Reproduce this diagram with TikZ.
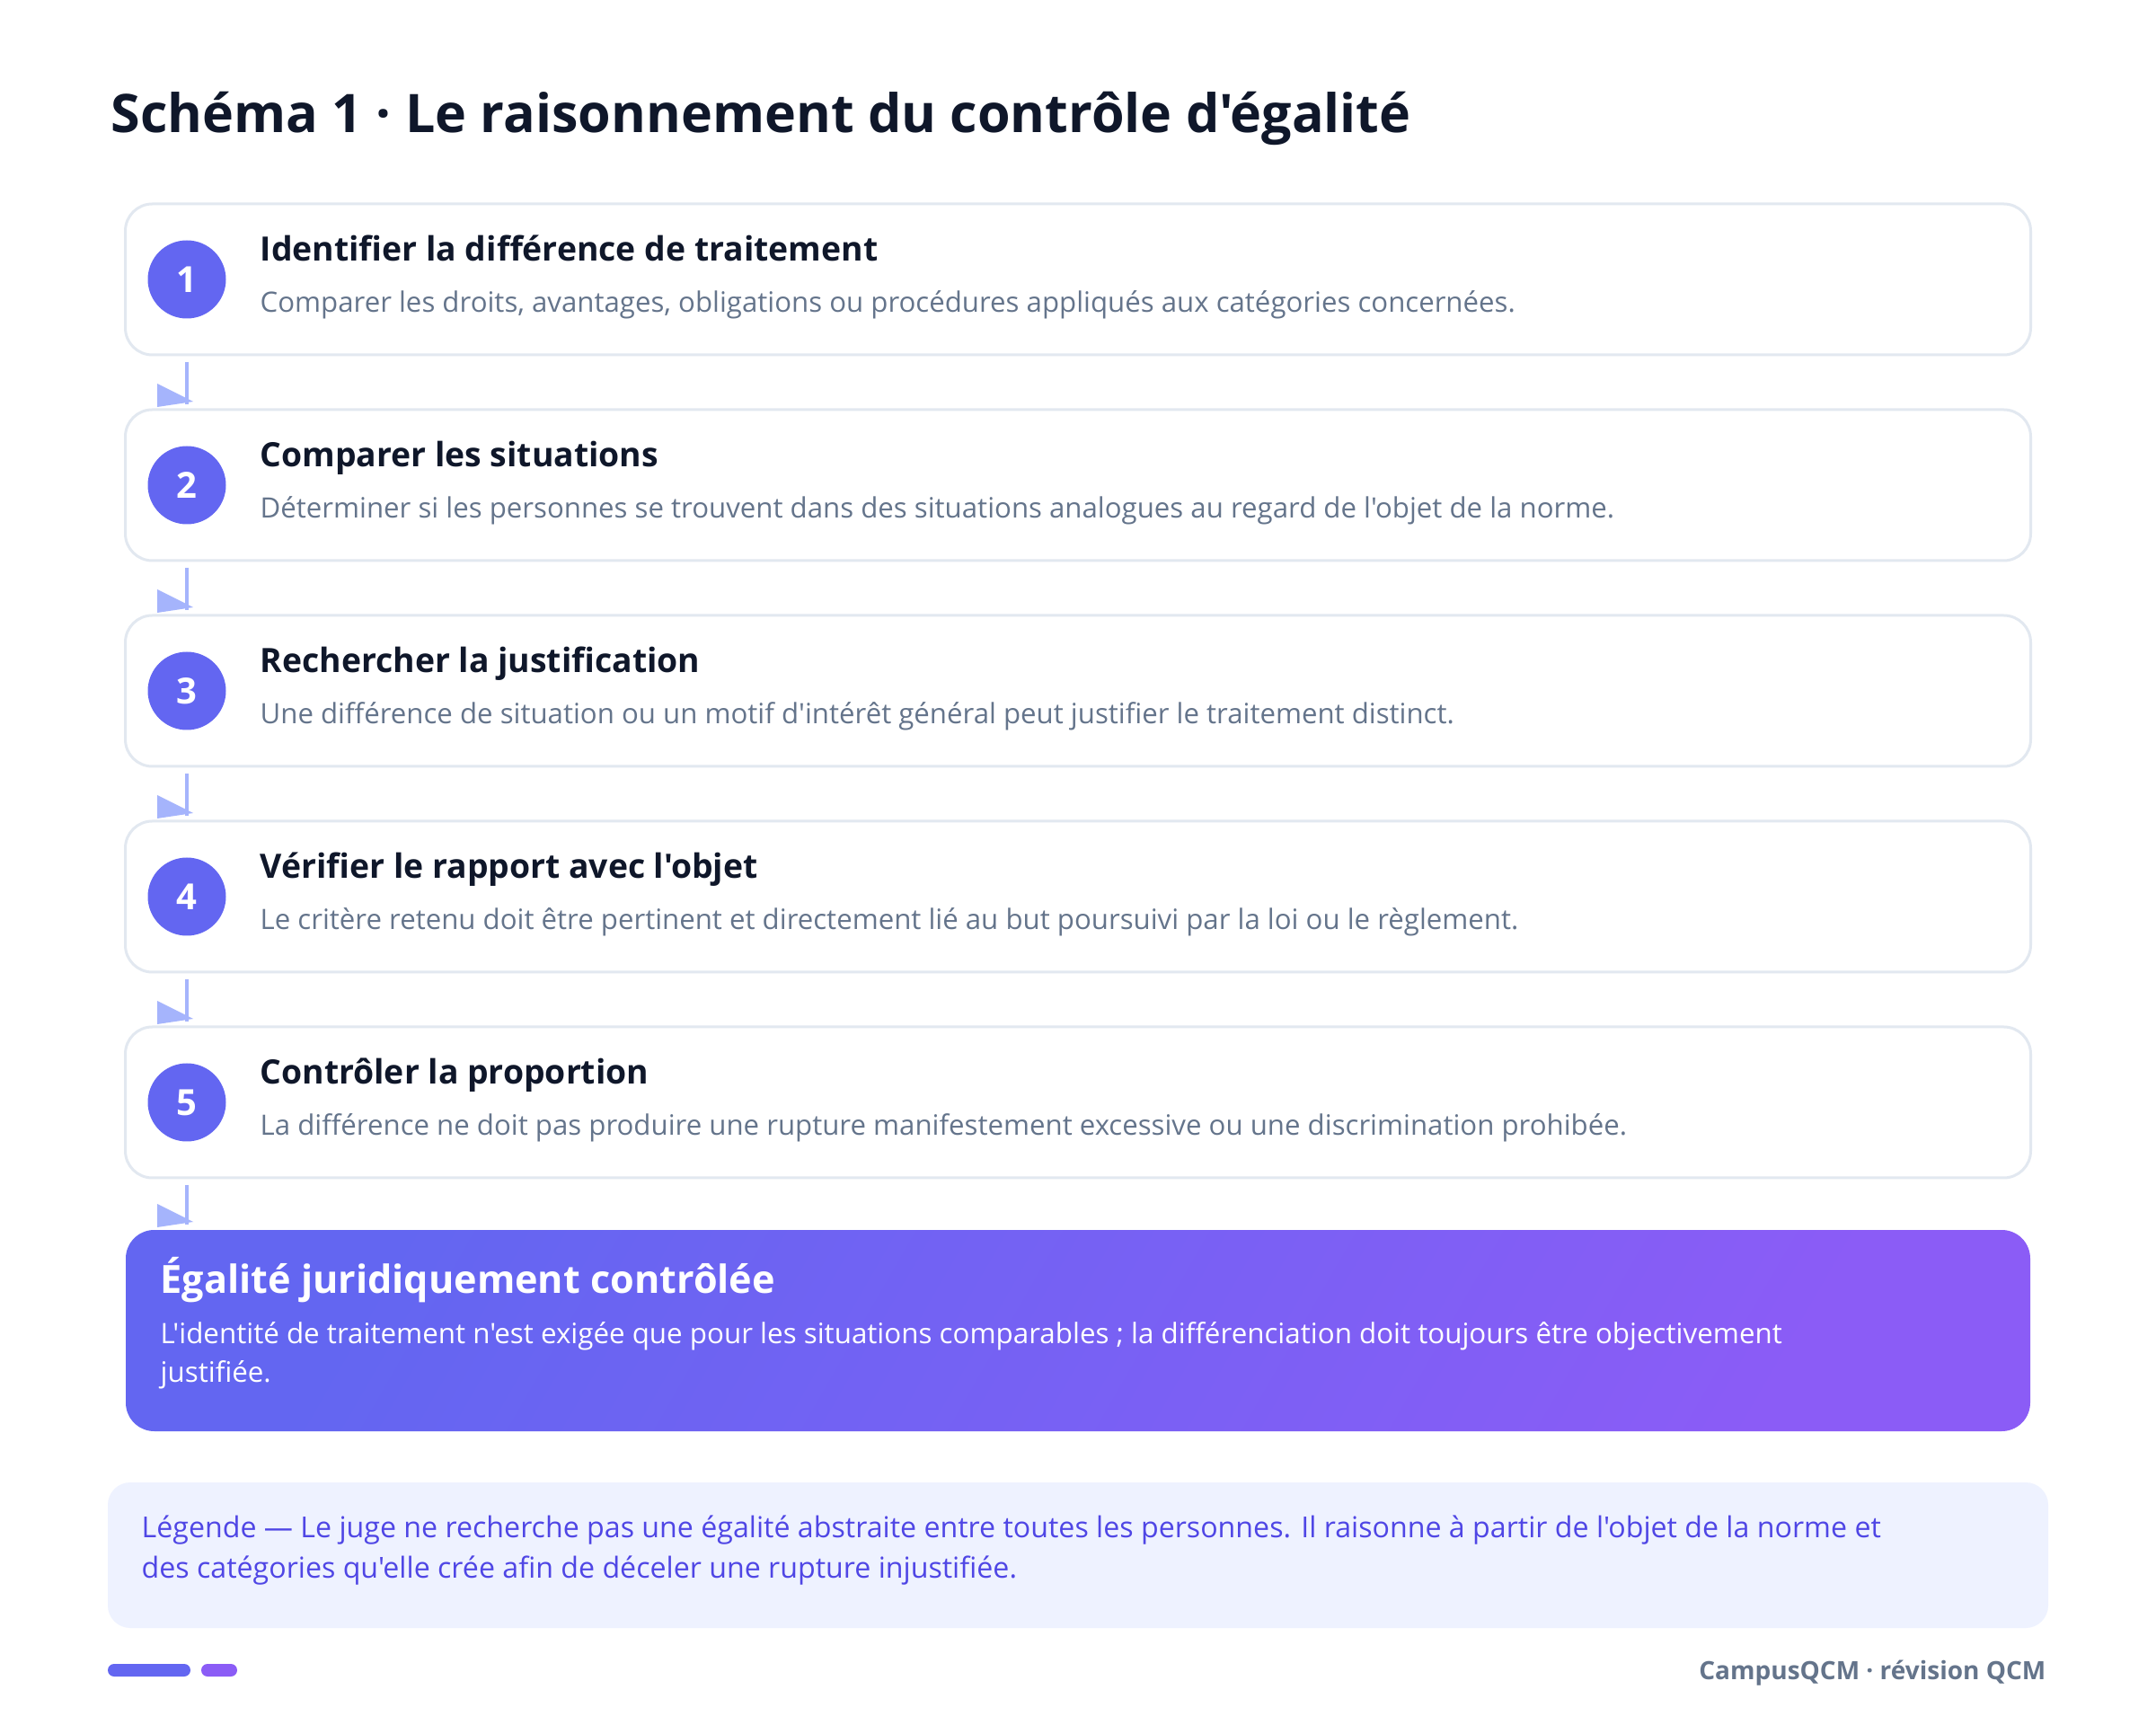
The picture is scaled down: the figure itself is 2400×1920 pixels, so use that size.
\documentclass[tikz,border=0pt]{standalone}
\usepackage{fontspec}
\setmainfont{Open Sans}[Ligatures=TeXOff]
\usetikzlibrary{calc,positioning}
\definecolor{ink}{HTML}{0F172A}
\definecolor{slate}{HTML}{64748B}
\definecolor{edge}{HTML}{E2E8F0}
\definecolor{indA}{HTML}{6366F1}
\definecolor{vioA}{HTML}{8B5CF6}
\definecolor{flowc}{HTML}{A5B4FC}
\definecolor{legfill}{HTML}{EEF2FF}
\definecolor{legtext}{HTML}{4F46E5}

\begin{document}
\begin{tikzpicture}[x=0.3pt,y=-0.3pt,
  stepbox/.style={draw=edge,line width=0.9pt,fill=white,rounded corners=9pt,
    minimum width=636.3pt,minimum height=50.4pt,inner sep=0pt,outer sep=0pt},
  num/.style={circle,fill=indA,text=white,minimum size=26.1pt,inner sep=0pt,
    font=\fontsize{12}{14}\selectfont\bfseries},
  steptitle/.style={anchor=base west,inner sep=0pt,text=ink,
    font=\fontsize{11.2}{13}\selectfont\bfseries},
  stepdesc/.style={anchor=base west,inner sep=0pt,text=slate,
    font=\fontsize{9.36}{11}\selectfont},
  flow/.style={draw=flowc,line width=1.3pt},
  tip/.style={fill=flowc},
  resultbox/.style={rounded corners=9.5pt,left color=indA,right color=vioA,shading angle=60,
    minimum width=636pt,minimum height=67.2pt,inner sep=0pt,outer sep=0pt},
  resulttext/.style={anchor=base west,inner sep=0pt,text=white,font=\fontsize{9.4}{11}\selectfont},
  legtxt/.style={anchor=base west,inner sep=0pt,text=legtext,font=\fontsize{9.65}{11}\selectfont}]
\useasboundingbox[fill=white] (0,0) rectangle (2400,1920);

\node[anchor=base west,inner sep=0pt,text=ink,font=\fontsize{17.75}{20}\selectfont\bfseries] (titre) at (123,148)
  {Schéma 1 · Le raisonnement du contrôle d'égalité};

% les cinq etapes
\node[stepbox] (s1) at (1200,311) {};
\node[num] (n1) at (208,311) {1};
\node[steptitle] (t1) at (289,291) {Identifier la différence de traitement};
\node[stepdesc] (d1) at (289,348) {Comparer les droits, avantages, obligations ou procédures appliqués aux catégories concernées.};

\node[stepbox] (s2) at (1200,540) {};
\node[num] (n2) at (208,540) {2};
\node[steptitle] (t2) at (289,520) {Comparer les situations};
\node[stepdesc] (d2) at (289,577) {Déterminer si les personnes se trouvent dans des situations analogues au regard de l'objet de la norme.};

\node[stepbox] (s3) at (1200,769) {};
\node[num] (n3) at (208,769) {3};
\node[steptitle] (t3) at (289,749) {Rechercher la justification};
\node[stepdesc] (d3) at (289,806) {Une différence de situation ou un motif d'intérêt général peut justifier le traitement distinct.};

\node[stepbox] (s4) at (1200,998) {};
\node[num] (n4) at (208,998) {4};
\node[steptitle] (t4) at (289,978) {Vérifier le rapport avec l'objet};
\node[stepdesc] (d4) at (289,1035) {Le critère retenu doit être pertinent et directement lié au but poursuivi par la loi ou le règlement.};

\node[stepbox] (s5) at (1200,1227) {};
\node[num] (n5) at (208,1227) {5};
\node[steptitle] (t5) at (289,1207) {Contrôler la proportion};
\node[stepdesc] (d5) at (289,1264) {La différence ne doit pas produire une rupture manifestement excessive ou une discrimination prohibée.};

% resultat
\node[resultbox] (r) at (1200,1481) {};
\node[anchor=base west,inner sep=0pt,text=white,font=\fontsize{12.95}{15}\selectfont\bfseries] (rt) at (178,1440)
  {Égalité juridiquement contrôlée};
\node[resulttext] (rd1) at (178,1495) {L'identité de traitement n'est exigée que pour les situations comparables ; la différenciation doit toujours être objectivement};
\node[resulttext] (rd2) at (178,1538) {justifiée.};

% fleches
\draw[flow] ($(s1.south -| n1)+(0,8)$) -- ($(s2.north -| n2)+(0,-6)$);
\fill[tip] ($(s2.north -| n2)+(-33,-29)$) -- ++(0,26) -- ($(s2.north -| n2)+(7,-9)$) -- cycle;
\draw[flow] ($(s2.south -| n2)+(0,8)$) -- ($(s3.north -| n3)+(0,-6)$);
\fill[tip] ($(s3.north -| n3)+(-33,-29)$) -- ++(0,26) -- ($(s3.north -| n3)+(7,-9)$) -- cycle;
\draw[flow] ($(s3.south -| n3)+(0,8)$) -- ($(s4.north -| n4)+(0,-6)$);
\fill[tip] ($(s4.north -| n4)+(-33,-29)$) -- ++(0,26) -- ($(s4.north -| n4)+(7,-9)$) -- cycle;
\draw[flow] ($(s4.south -| n4)+(0,8)$) -- ($(s5.north -| n5)+(0,-6)$);
\fill[tip] ($(s5.north -| n5)+(-33,-29)$) -- ++(0,26) -- ($(s5.north -| n5)+(7,-9)$) -- cycle;
\draw[flow] ($(s5.south -| n5)+(0,8)$) -- ($(r.north -| n5)+(0,-6)$);
\fill[tip] ($(r.north -| n5)+(-33,-29)$) -- ++(0,26) -- ($(r.north -| n5)+(7,-9)$) -- cycle;

% legende
\node[fill=legfill,rounded corners=7.5pt,minimum width=648pt,minimum height=48.6pt,inner sep=0pt] (lg) at (1200,1731) {};
\node[legtxt] (l1) at (157,1711) {Légende — Le juge ne recherche pas une égalité abstraite entre toutes les personnes. Il raisonne à partir de l'objet de la norme et};
\node[legtxt] (l2) at (157,1756) {des catégories qu'elle crée afin de déceler une rupture injustifiée.};

% pied
\fill[indA,rounded corners=2.1pt] (120,1852) rectangle (212,1866);
\fill[vioA,rounded corners=2.1pt] (224,1852) rectangle (264,1866);
\node[anchor=base east,inner sep=0pt,text=slate,font=\fontsize{8.4}{10}\selectfont\bfseries] (pied) at (2278,1869)
  {CampusQCM · révision QCM};
\end{tikzpicture}
\end{document}
